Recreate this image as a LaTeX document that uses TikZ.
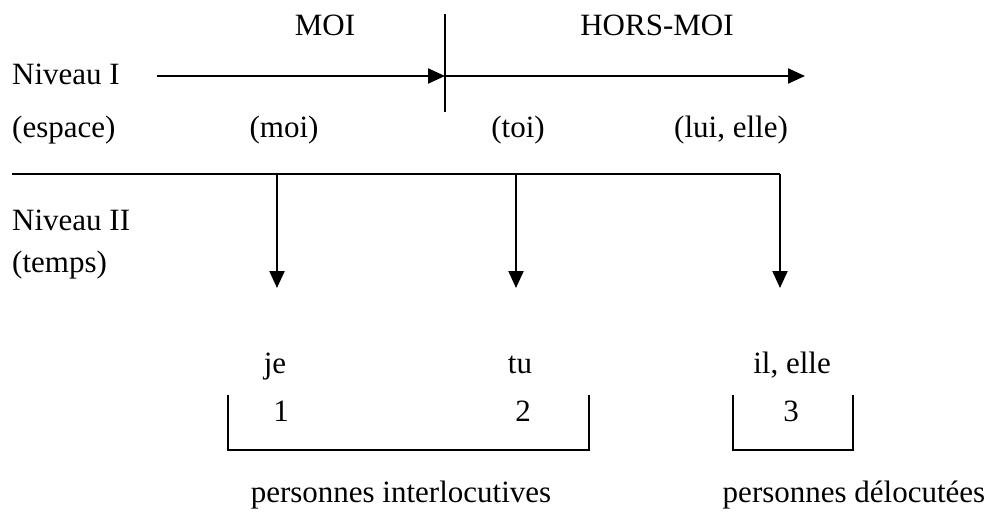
\documentclass[tikz,border=0pt]{standalone}
\usepackage{fontspec}
\setmainfont{Liberation Serif}
\usetikzlibrary{arrows.meta}
\begin{document}
\begin{tikzpicture}[x=1pt,y=-1pt,
  lbl/.style={inner sep=0pt,anchor=base,font=\fontsize{31}{36}\selectfont},
  lblw/.style={inner sep=0pt,anchor=base west,font=\fontsize{31}{36}\selectfont},
  ln/.style={line width=2.2pt},
  arr/.style={ln,-{Triangle[length=17pt,width=15pt]}}]
\useasboundingbox (0,0) rectangle (998,513);
% top level
\node[lbl] (moi) at (325,36) {MOI};
\node[lbl] (horsmoi) at (657,36) {HORS-MOI};
\node[lblw] (n1) at (12,85) {Niveau I};
\node[lblw] (esp) at (12,138) {(espace)};
\node[lbl] (pmoi) at (284,138) {(moi)};
\node[lbl] (ptoi) at (518,138) {(toi)};
\node[lbl] (plui) at (731,138) {(lui, elle)};
\coordinate (a0) at (157,76);
\coordinate (a1) at (445,76);
\coordinate (a2) at (805,76);
\coordinate (s0) at (445,14);
\coordinate (s1) at (445,112);
\draw[arr] (a0) -- (a1);
\draw[arr] (a1) -- (a2);
\draw[ln] (s0) -- (s1);
% level II
\coordinate (h0) at (12,174);
\coordinate (h1) at (277,174);
\coordinate (h2) at (516,174);
\coordinate (h3) at (780,174);
\coordinate (t1) at (277,288);
\coordinate (t2) at (516,288);
\coordinate (t3) at (780,288);
\draw[ln] (h0) -- (h3);
\draw[arr] (h1) -- (t1);
\draw[arr] (h2) -- (t2);
\draw[arr] (h3) -- (t3);
\node[lblw] (n2) at (12,230) {Niveau II};
\node[lblw] (tps) at (12,272) {(temps)};
% persons
\node[lbl] (je) at (275,373) {je};
\node[lbl] (tu) at (520,373) {tu};
\node[lbl] (il) at (792,373) {il, elle};
\node[lbl] (p1) at (281,421) {1};
\node[lbl] (p2) at (523,421) {2};
\node[lbl] (p3) at (791,421) {3};
\coordinate (b1a) at (228,395);
\coordinate (b1b) at (228,450);
\coordinate (b1c) at (589,450);
\coordinate (b1d) at (589,395);
\coordinate (b2a) at (733,395);
\coordinate (b2b) at (733,450);
\coordinate (b2c) at (853,450);
\coordinate (b2d) at (853,395);
\draw[ln] (b1a) -- (b1b) -- (b1c) -- (b1d);
\draw[ln] (b2a) -- (b2b) -- (b2c) -- (b2d);
\node[lbl] (inter) at (401,502) {personnes interlocutives};
\node[lbl] (deloc) at (854,502) {personnes délocutées};
\end{tikzpicture}
\end{document}
